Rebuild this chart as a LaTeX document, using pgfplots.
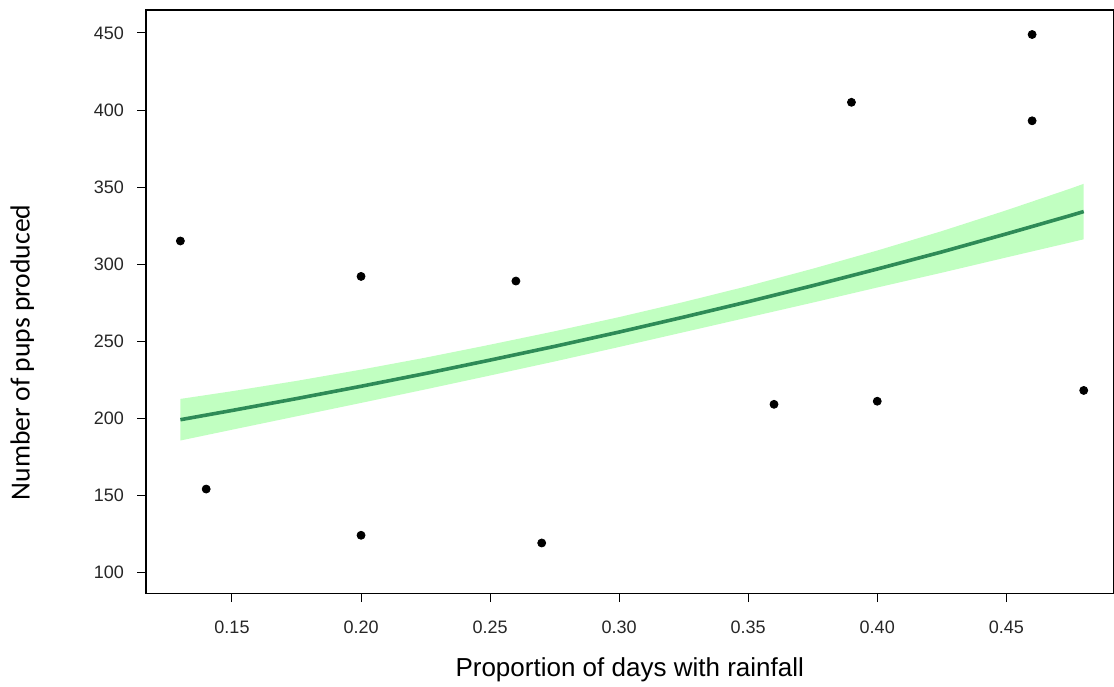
\documentclass[border=0pt]{standalone}
\usepackage{fontspec}
\setmainfont{Liberation Sans}
\newfontfamily\calibrifont{Carlito}
\usepackage{pgfplots}
\pgfplotsset{compat=1.18}
\definecolor{bandgreen}{HTML}{C1FFC1}
\definecolor{linegreen}{HTML}{2E8B57}

\begin{document}
\begin{tikzpicture}
\begin{axis}[
  scale only axis,
  width=483.5pt, height=291.5pt,
  xmin=0.1167, xmax=0.4915,
  ymin=86.4, ymax=464.9,
  xtick={0.15,0.20,...,0.45},
  ytick={100,150,...,450},
  xticklabels={0.15,0.20,0.25,0.30,0.35,0.40,0.45},
  /pgf/number format/assume math mode=true,
  tick align=outside,
  xtick pos=bottom, ytick pos=left,
  major tick length=4.5pt,
  axis line style={black, line width=0.6pt},
  tick style={black, line width=0.5pt},
  tick label style={font=\fontsize{9}{10}\selectfont, text=black!85},
  xticklabel style={yshift=-6pt},
  yticklabel style={xshift=-3pt},
  xlabel={Proportion of days with rainfall},
  ylabel={Number of pups produced},
  xlabel style={font=\fontsize{13}{15}\selectfont, inner sep=0pt, at={(axis description cs:0.5,-0.132)}, anchor=center},
  ylabel style={font=\calibrifont\fontsize{13.8}{16}\selectfont, inner sep=0pt, at={(axis description cs:-0.128,0.413)}, anchor=center},
]
% confidence band: upper edge forward, lower edge back
\addplot[fill=bandgreen, draw=none] coordinates {
  (0.13,212.5) (0.15,217.5) (0.175,224.2) (0.20,231.5) (0.225,239.3)
  (0.25,247.7) (0.275,256.4) (0.30,265.6) (0.325,275.4) (0.35,285.8)
  (0.375,297.0) (0.40,308.8) (0.425,321.4) (0.45,334.9) (0.475,349.1)
  (0.48,352.1)
  (0.48,316.1) (0.475,314.1) (0.45,304.3) (0.425,294.4) (0.40,284.8)
  (0.375,275.0) (0.35,265.4) (0.325,255.8) (0.30,246.2) (0.275,236.8)
  (0.25,227.7) (0.225,218.7) (0.20,209.9) (0.175,201.2) (0.15,192.5)
  (0.13,185.5)
} -- cycle;
% fitted curve
\addplot[linegreen, line width=1.8pt, no marks] coordinates {
  (0.13,199.0) (0.15,205.0) (0.175,212.7) (0.20,220.7) (0.225,229.0)
  (0.25,237.7) (0.275,246.6) (0.30,255.9) (0.325,265.6) (0.35,275.6)
  (0.375,286.0) (0.40,296.8) (0.425,307.9) (0.45,319.6) (0.475,331.6)
  (0.48,334.1)
};
% observations
\addplot[only marks, mark=*, mark size=2pt, black] coordinates {
  (0.13,315) (0.14,154) (0.20,292) (0.20,124) (0.26,289) (0.27,119)
  (0.36,209) (0.39,405) (0.40,211) (0.46,449) (0.46,393) (0.48,218)
};
\end{axis}
% margins as in the reference
\path (current axis.north) ++(0,5pt);
\path (current axis.south) ++(0,-46.5pt);
\path (current axis.west) ++(-73pt,0);
\end{tikzpicture}
\end{document}
